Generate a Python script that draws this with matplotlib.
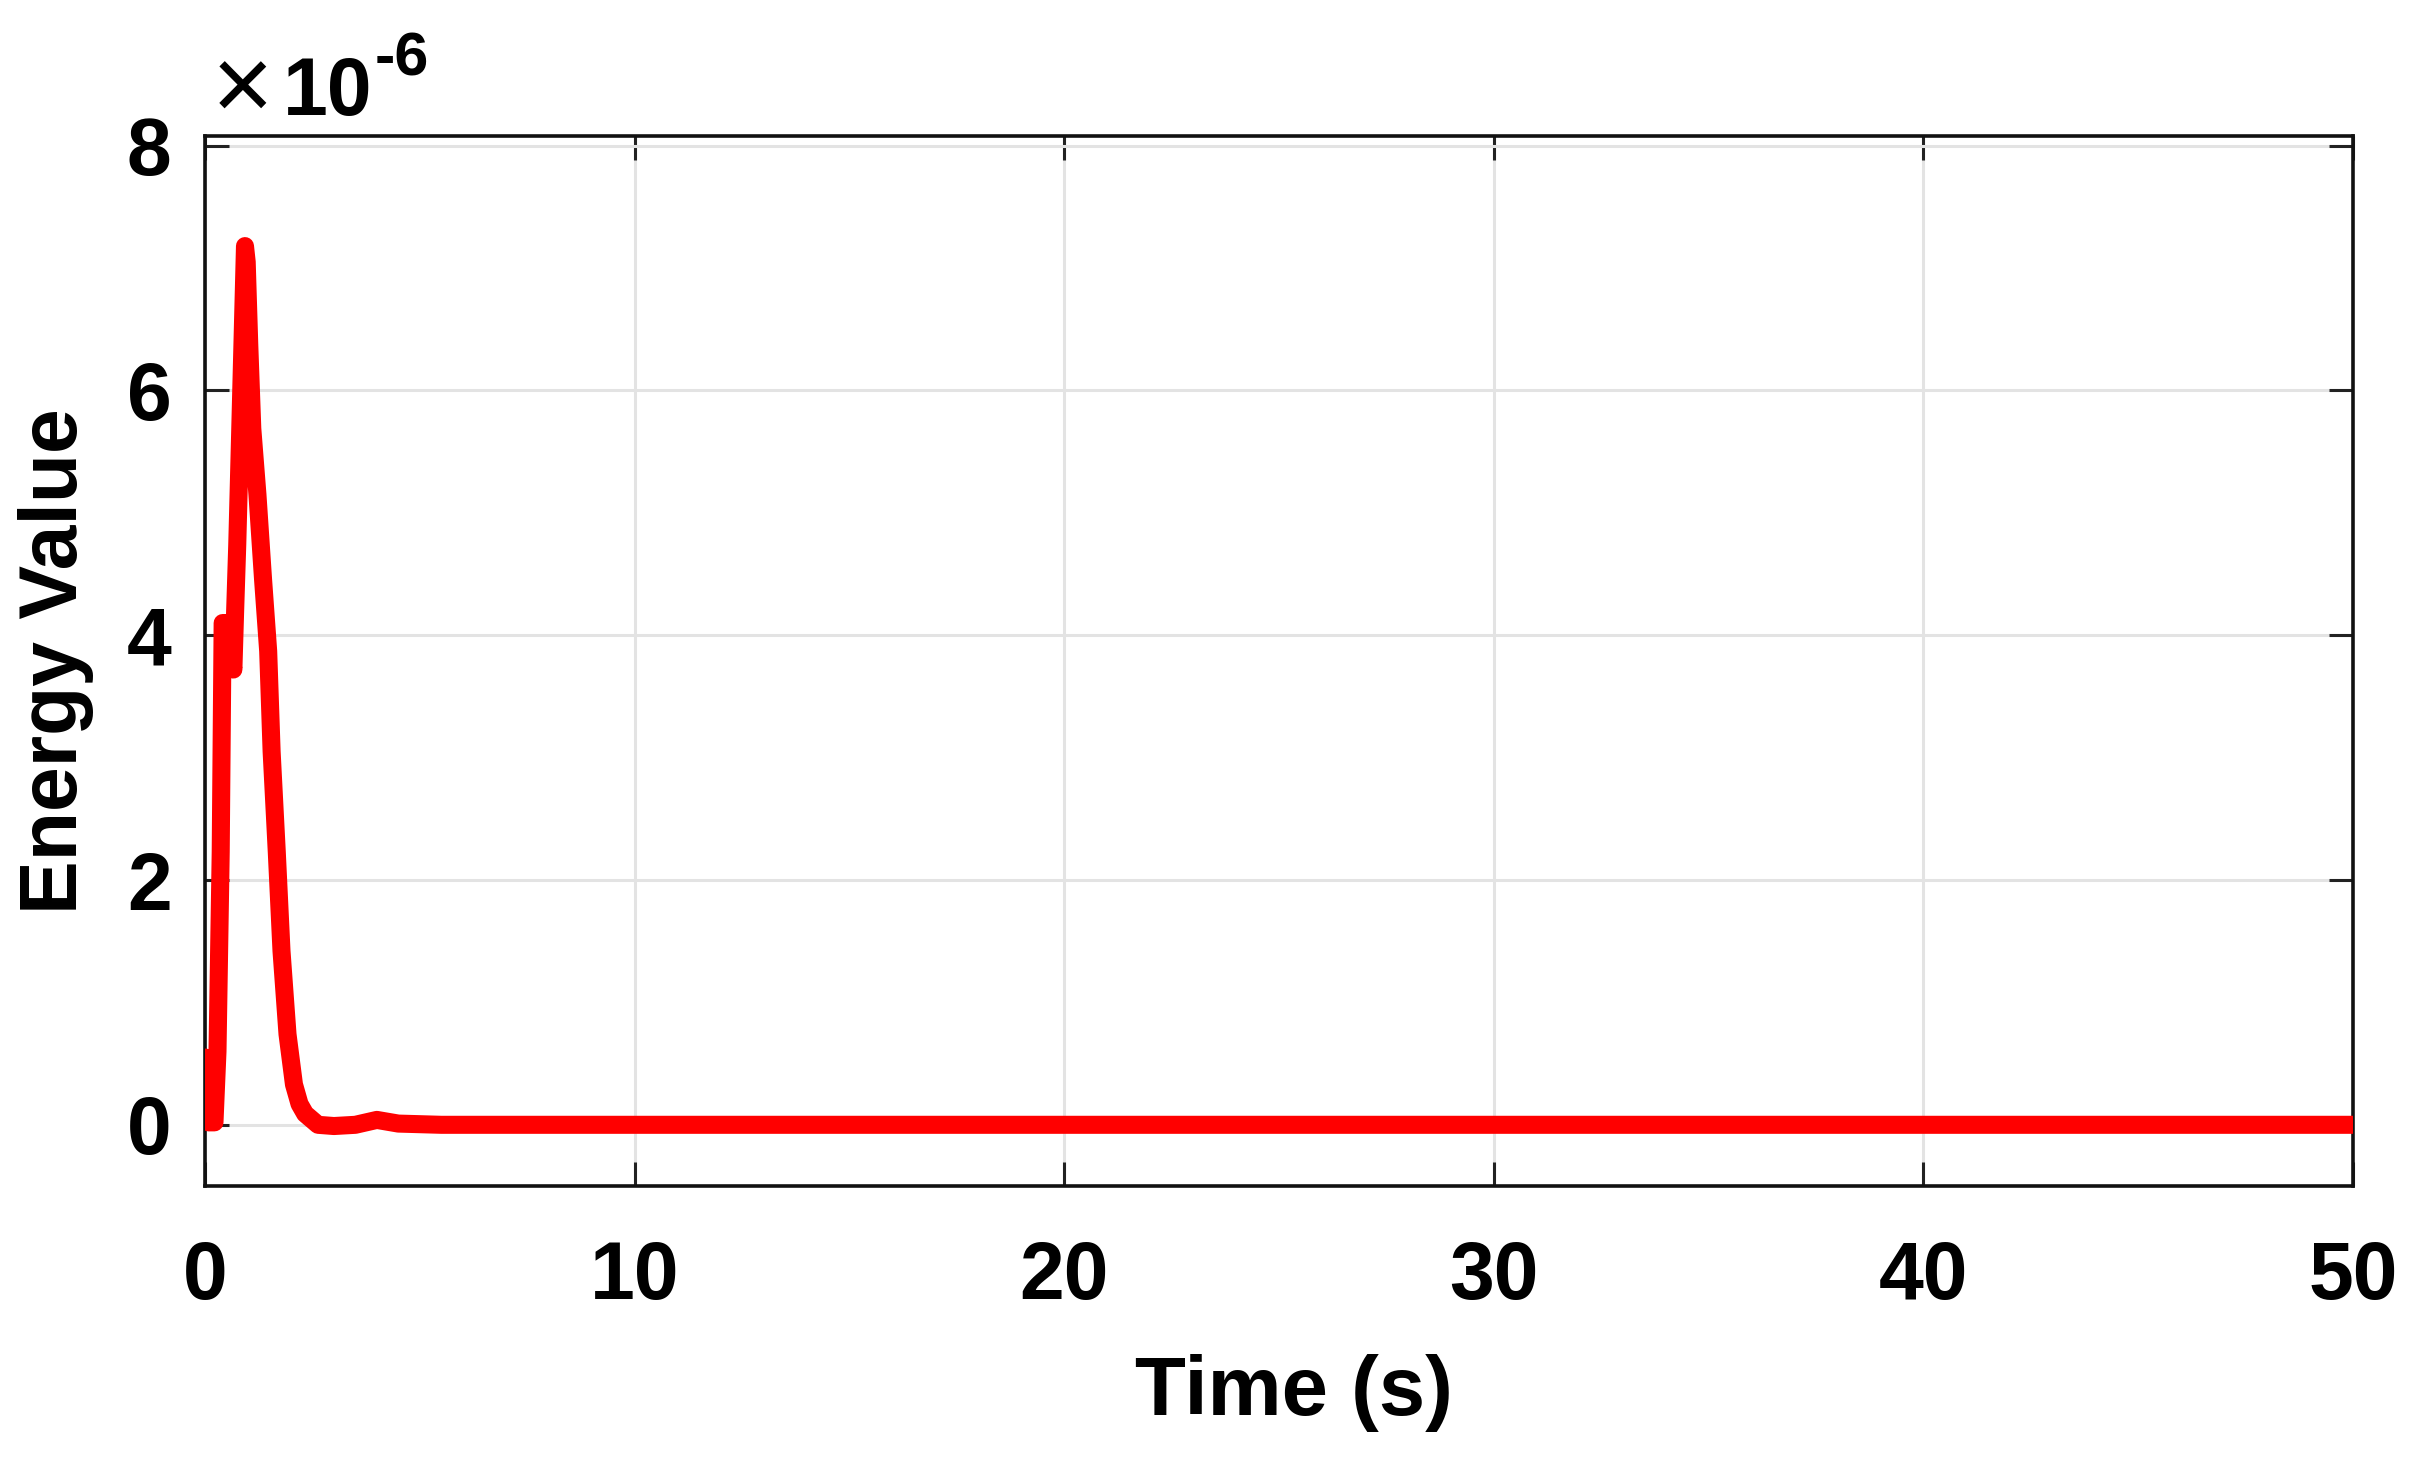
import matplotlib
matplotlib.use("Agg")
import matplotlib.pyplot as plt

# Time (s) and energy value (in units of 1e-6)
time_s = [0.0, 0.08, 0.22, 0.29, 0.365, 0.41, 0.50, 0.58, 0.66, 0.70, 0.75,
          0.81, 0.89, 0.93, 0.97, 1.03, 1.10, 1.22, 1.35, 1.47, 1.55, 1.67,
          1.78, 1.92, 2.07, 2.20, 2.33, 2.63, 3.00, 3.50, 4.00, 4.50, 5.50,
          10.0, 20.0, 30.0, 40.0, 50.0]
energy = [0.55, 0.02, 0.02, 0.6, 2.23, 4.1, 4.1, 3.9, 3.72, 4.19, 4.74,
          5.55, 6.64, 7.18, 7.05, 6.37, 5.69, 5.15, 4.46, 3.87, 3.05, 2.23,
          1.42, 0.74, 0.33, 0.17, 0.09, 0.0, -0.01, 0.0, 0.04, 0.01, 0.0,
          0.0, 0.0, 0.0, 0.0, 0.0]

x_ticks = [0, 10, 20, 30, 40, 50]
y_ticks = [0, 2, 4, 6, 8]

plt.rcParams['font.family'] = ['Liberation Sans', 'DejaVu Sans']

fig = plt.figure(figsize=(24.15, 14.57), dpi=100)
ax = fig.add_axes([0.0849, 0.186, 0.8894, 0.7207])

ax.plot(time_s, energy, color='#ff0000', lw=13, solid_joinstyle='round',
        solid_capstyle='round', zorder=3)

ax.set_xlim(0, 50)
ax.set_ylim(-0.5, 8.08)
ax.set_xticks(x_ticks)
ax.set_yticks(y_ticks)
ax.set_xticklabels([str(v) for v in x_ticks], fontsize=58, fontweight='bold')
ax.set_yticklabels([str(v) for v in y_ticks], fontsize=58, fontweight='bold')

ax.grid(True, color='#e3e3e3', lw=2.2, zorder=0)
ax.set_axisbelow(True)
ax.tick_params(axis='both', direction='in', length=17, width=2.2, color='#222222',
               top=True, right=True)
ax.tick_params(axis='x', pad=39)
ax.tick_params(axis='y', pad=24)
for s in ax.spines.values():
    s.set_linewidth(2.6)
    s.set_color('#111111')

ax.set_xlabel('Time (s)', fontsize=60, fontweight='bold')
ax.set_ylabel('Energy Value', fontsize=58, fontweight='bold', labelpad=24)
ax.xaxis.set_label_coords(0.507, -0.16)

# exponent multiplier
fig.text(0.1006, 0.936, '×', fontsize=76, ha='center', va='center')
fig.text(0.1172, 1 - 115 / 1457, '10', fontsize=58, fontweight='bold',
         ha='left', va='baseline')
fig.text(0.1553, 1 - 75 / 1457, '-6', fontsize=44, fontweight='bold',
         ha='left', va='baseline')

fig.savefig('out.png', dpi=100, facecolor='white')
